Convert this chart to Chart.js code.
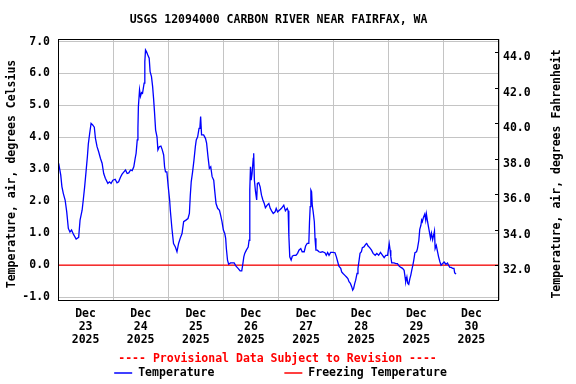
<!DOCTYPE html>
<html>
<head>
  <meta charset="UTF-8">
  <title>USGS 12094000 CARBON RIVER NEAR FAIRFAX, WA</title>
  <script src="https://cdn.jsdelivr.net/npm/chart.js"></script>
  <style>
    body {
      margin: 0;
      background-color: #fff;
    }
    #graf {
      display: block;
    }
  </style>
</head>
<body>
  <canvas id="graf" width="576" height="384"></canvas>

  <script>
    // hours since Dec 23 2025 00:00
    const hours = [
      0.3, 1.2, 1.7, 2.3, 3.1, 3.8, 4.5, 5.2, 5.9, 6.7, 7.9, 9.0, 9.6, 10.5, 11.0, 11.6, 12.2, 12.8, 13.2, 13.8,
      14.4, 15.1, 15.8, 16.3, 17.0, 17.7, 18.5, 19.2, 19.9, 20.6, 21.7, 22.4, 23.1, 23.9, 24.9, 25.7, 26.4, 27.2, 27.9, 28.7,
      29.4, 30.1, 30.8, 31.6, 32.3, 33.0, 33.6, 34.0, 34.5, 34.8, 35.0, 35.5, 35.9, 36.4, 36.8, 37.5, 37.8, 38.1, 38.5, 39.1,
      39.7, 40.1, 40.7, 41.2, 41.6, 42.0, 42.5, 43.1, 43.5, 44.1, 44.8, 45.4, 46.0, 46.4, 46.8, 47.4, 48.0, 48.6, 48.9, 49.6,
      50.3, 51.1, 51.8, 52.5, 53.2, 54.0, 54.7, 55.7, 56.6, 57.2, 57.6, 58.0, 58.6, 59.2, 59.8, 60.2, 60.8, 61.4, 61.8, 62.1,
      62.5, 63.4, 64.2, 64.7, 65.3, 65.9, 66.5, 67.1, 67.8, 68.2, 68.8, 69.5, 70.3, 70.8, 71.4, 72.0, 72.6, 73.0, 73.3, 73.8,
      74.3, 75.1, 75.8, 76.7, 77.5, 78.4, 79.3, 80.0, 80.4, 80.9, 81.3, 82.0, 82.8, 83.2, 83.5, 83.8, 84.1, 84.5, 85.0, 85.2,
      85.5, 86.0, 86.5, 86.8, 87.4, 88.0, 88.6, 89.2, 89.8, 90.3, 91.1, 91.8, 92.4, 93.0, 93.7, 94.5, 95.0, 95.6, 96.4, 97.3,
      98.3, 99.0, 99.8, 100.2, 100.5, 100.9, 101.5, 102.0, 102.7, 103.6, 104.3, 104.9, 105.7, 106.3, 107.2, 107.8, 108.5, 109.2, 109.5, 109.8,
      110.1, 110.4, 110.7, 111.1, 111.6, 111.9, 112.3, 112.9, 113.6, 114.3, 115.1, 116.2, 116.8, 117.4, 118.0, 118.7, 119.7, 120.6, 121.2, 121.8,
      122.3, 123.1, 123.5, 124.1, 124.8, 125.6, 126.2, 126.7, 127.3, 127.9, 128.3, 128.7, 129.2, 129.6, 130.2, 130.6, 131.1, 131.5, 132.1, 132.5,
      133.2, 134.0, 134.4, 135.0, 135.7, 136.5, 137.2, 138.1, 138.8, 139.6, 140.4, 141.3, 142.0, 142.7, 143.5, 144.2, 144.6, 144.9, 145.3, 146.3,
      147.1, 147.8, 148.5, 149.3, 150.0, 150.7, 151.1, 151.4, 151.9, 152.3, 152.7, 153.2, 153.6, 154.0, 154.5, 154.9, 155.4, 156.1, 156.5, 157.1,
      157.5, 158.0, 158.3, 158.6, 159.1, 159.7, 160.1, 160.4, 160.9, 161.3, 161.7, 162.2, 162.6, 163.1, 163.6, 163.9, 164.2, 164.7, 165.1, 165.7,
      166.3, 166.8, 167.4, 168.1, 168.9, 169.6, 170.0, 170.6, 171.2, 171.8, 172.4, 172.7, 173.3
    ];
    const temperature = [
      3.19, 2.82, 2.46, 2.25, 2.04, 1.67, 1.15, 1.04, 1.10, 0.97, 0.82, 0.87, 1.41, 1.72, 2.04, 2.45, 2.92, 3.40, 3.79, 4.13,
      4.44, 4.39, 4.32, 3.97, 3.71, 3.55, 3.34, 3.19, 2.87, 2.72, 2.56, 2.61, 2.56, 2.66, 2.69, 2.58, 2.61, 2.75, 2.85, 2.92,
      2.98, 2.87, 2.89, 2.98, 2.96, 3.08, 3.34, 3.50, 3.92, 4.28, 4.96, 5.49, 5.28, 5.40, 5.38, 5.70, 6.37, 6.74, 6.69, 6.58,
      6.48, 6.06, 5.90, 5.59, 5.23, 4.81, 4.23, 4.02, 3.61, 3.71, 3.73, 3.61, 3.45, 3.08, 2.92, 2.92, 2.45, 2.04, 1.72, 1.15,
      0.68, 0.57, 0.42, 0.68, 0.84, 0.99, 1.36, 1.41, 1.46, 1.62, 2.19, 2.61, 2.92, 3.29, 3.71, 3.92, 4.02, 4.28, 4.34, 4.65,
      4.08, 4.08, 3.97, 3.82, 3.40, 3.03, 3.08, 2.77, 2.66, 2.35, 1.93, 1.78, 1.72, 1.57, 1.36, 1.10, 0.99, 0.84, 0.52, 0.16,
      0.03, 0.07, 0.07, 0.07, -0.03, -0.10, -0.18, -0.18, 0.00, 0.26, 0.37, 0.47, 0.57, 0.78, 2.35, 3.08, 2.66, 2.87, 3.34, 3.50,
      2.66, 2.30, 2.04, 2.56, 2.58, 2.45, 2.19, 2.04, 1.93, 1.80, 1.88, 1.93, 1.78, 1.70, 1.62, 1.67, 1.78, 1.67, 1.72, 1.78,
      1.88, 1.70, 1.78, 1.70, 0.94, 0.26, 0.16, 0.28, 0.31, 0.31, 0.37, 0.47, 0.52, 0.42, 0.42, 0.60, 0.68, 0.68, 1.36, 1.83,
      2.35, 2.30, 1.88, 1.67, 1.36, 0.84, 0.47, 0.47, 0.42, 0.40, 0.42, 0.39, 0.31, 0.40, 0.31, 0.40, 0.40, 0.39, 0.26, 0.10,
      -0.03, -0.10, -0.21, -0.26, -0.31, -0.37, -0.42, -0.52, -0.57, -0.68, -0.78, -0.73, -0.57, -0.47, -0.26, -0.10, 0.16, 0.37, 0.42, 0.55,
      0.57, 0.66, 0.68, 0.60, 0.55, 0.47, 0.37, 0.31, 0.37, 0.31, 0.40, 0.31, 0.24, 0.31, 0.31, 0.68, 0.47, 0.26, 0.07, 0.07,
      0.05, 0.05, -0.03, -0.07, -0.10, -0.16, -0.37, -0.52, -0.37, -0.57, -0.60, -0.42, -0.31, -0.16, 0.00, 0.16, 0.39, 0.42, 0.52, 0.78,
      1.12, 1.25, 1.41, 1.36, 1.49, 1.60, 1.41, 1.60, 1.36, 1.20, 1.04, 0.84, 1.00, 0.80, 0.96, 1.07, 0.52, 0.62, 0.47, 0.26,
      0.10, 0.00, 0.05, 0.10, 0.03, 0.07, 0.00, -0.07, -0.07, -0.10, -0.10, -0.24, -0.28
    ];
    const freezingHours = [0, 192];
    const freezingValues = [0, 0];

    const days = ['23', '24', '25', '26', '27', '28', '29', '30'];
    const celsiusTicks = [-1, 0, 1, 2, 3, 4, 5, 6, 7];
    const fahrenheitTicks = [32, 34, 36, 38, 40, 42, 44];

    const cMin = -1.09;
    const cMax = 7.08;
    const toF = c => c * 1.8 + 32;

    // tick every 12 h: midnights get a grid line, noons get the date
    const tickHours = [];
    days.forEach((d, i) => { tickHours.push(i * 24, i * 24 + 12); });
    tickHours.push(days.length * 24);

    const MONO = '"DejaVu Sans Mono", "Liberation Mono", monospace';
    Chart.defaults.font.family = MONO;
    Chart.defaults.font.size = 11.5;
    Chart.defaults.font.weight = 'bold';
    Chart.defaults.color = '#000';

    // frame, inward ticks on the right, rotated axis titles and the legend
    const usgsDecor = {
      id: 'usgsDecor',
      afterDraw(chart) {
        const { ctx, chartArea: a, scales } = chart;
        const font = 'bold 11.5px ' + MONO;
        ctx.save();

        ctx.strokeStyle = '#000';
        ctx.lineWidth = 1;
        ctx.strokeRect(a.left + 0.5, a.top + 0.5, a.right - a.left - 1, a.bottom - a.top);

        fahrenheitTicks.forEach(v => {
          const y = Math.round(scales.y2.getPixelForValue(v)) + 0.5;
          ctx.beginPath();
          ctx.moveTo(a.right - 4, y);
          ctx.lineTo(a.right, y);
          ctx.stroke();
        });

        ctx.font = font;
        ctx.fillStyle = '#000';
        ctx.textAlign = 'center';
        ctx.textBaseline = 'middle';
        const midY = (a.top + a.bottom) / 2 + 4.5;
        [[12, 'Temperature, air, degrees Celsius'], [557, 'Temperature, air, degrees Fahrenheit']].forEach(([x, t]) => {
          ctx.save();
          ctx.translate(x, midY);
          ctx.rotate(-Math.PI / 2);
          ctx.fillText(t, 0, 0);
          ctx.restore();
        });

        const cx = (a.left + a.right) / 2;
        ctx.fillStyle = '#ff0000';
        ctx.fillText('---- Provisional Data Subject to Revision ----', cx - 1, a.bottom + 59);

        const sets = chart.data.datasets;
        const widths = sets.map(ds => 24 + ctx.measureText(ds.label).width);
        const gap = 70;
        let x = cx - (widths[0] + gap + widths[1]) / 2 + 2;
        const y = Math.round(a.bottom + 73);
        ctx.textAlign = 'left';
        ctx.lineWidth = 1.5;
        sets.forEach((ds, i) => {
          ctx.strokeStyle = ds.borderColor;
          ctx.beginPath();
          ctx.moveTo(x, y);
          ctx.lineTo(x + 18, y);
          ctx.stroke();
          ctx.fillStyle = '#000';
          ctx.fillText(ds.label, x + 24, y);
          x += widths[i] + gap;
        });
        ctx.restore();
      }
    };

    const ctx = document.getElementById('graf').getContext('2d');
    const chart = new Chart(ctx, {
      type: 'line',
      data: {
        datasets: [{
          label: 'Temperature',
          data: hours.map((h, i) => ({ x: h, y: temperature[i] })),
          borderColor: '#0000ff',
          borderWidth: 1.3,
          pointRadius: 0,
          tension: 0,
          yAxisID: 'y'
        }, {
          label: 'Freezing Temperature',
          data: freezingHours.map((h, i) => ({ x: h, y: freezingValues[i] })),
          borderColor: '#ff0000',
          borderWidth: 1.2,
          pointRadius: 0,
          yAxisID: 'y'
        }]
      },
      options: {
        responsive: false,
        animation: false,
        layout: { padding: { bottom: 34 } },
        plugins: {
          legend: { display: false },
          tooltip: { enabled: false },
          title: {
            display: true,
            fullSize: false,
            text: 'USGS 12094000 CARBON RIVER NEAR FAIRFAX, WA',
            color: '#000',
            font: { size: 11.5, weight: 'bold', lineHeight: 1.2 },
            padding: { top: 13, bottom: 12.2 }
          }
        },
        scales: {
          x: {
            type: 'linear',
            min: 0,
            max: days.length * 24,
            afterBuildTicks: s => { s.ticks = tickHours.map(v => ({ value: v })); },
            afterFit: s => { s.height = 50; },
            border: { display: false },
            grid: {
              drawTicks: false,
              color: c => (c.tick && c.tick.value % 24 === 0) ? '#c4c4c4' : 'rgba(0,0,0,0)'
            },
            ticks: {
              autoSkip: false,
              maxRotation: 0,
              padding: 7.5,
              font: { lineHeight: 1.13 },
              callback: v => (v % 24 === 12) ? ['Dec', days[(v - 12) / 24], '2025'] : ''
            }
          },
          y: {
            position: 'left',
            min: cMin,
            max: cMax,
            afterBuildTicks: s => { s.ticks = celsiusTicks.map(v => ({ value: v })); },
            afterFit: s => { s.width = 58; },
            border: { display: false },
            grid: { drawTicks: false, color: '#c4c4c4' },
            ticks: { padding: 8, callback: v => v.toFixed(1) }
          },
          y2: {
            position: 'right',
            min: toF(cMin),
            max: toF(cMax),
            afterBuildTicks: s => { s.ticks = fahrenheitTicks.map(v => ({ value: v })); },
            afterFit: s => { s.width = 77; },
            border: { display: false },
            grid: { drawOnChartArea: false, drawTicks: false },
            ticks: { padding: 4, labelOffset: 5, callback: v => v.toFixed(1) }
          }
        }
      },
      plugins: [usgsDecor]
    });
  </script>
</body>
</html>
